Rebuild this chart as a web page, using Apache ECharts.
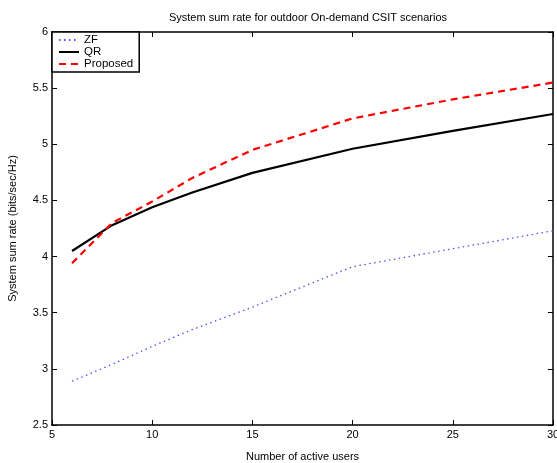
<!DOCTYPE html>
<html>
<head>
<meta charset="utf-8">
<script src="https://cdn.jsdelivr.net/npm/echarts@6/dist/echarts.min.js"></script>
<style>
html,body{margin:0;padding:0;background:#fff;}
#chart{width:557px;height:463px;}
</style>
</head>
<body>
<div id="chart"></div>
<script>
// Number of active users
const users = [6, 8, 10, 12, 15, 20, 25, 30];
// System sum rate (bits/sec/Hz) per scheme
const zfRate = [2.89, 3.04, 3.20, 3.35, 3.55, 3.91, 4.07, 4.23];
const qrRate = [4.05, 4.28, 4.44, 4.57, 4.745, 4.96, 5.12, 5.27];
const proposedRate = [3.94, 4.30, 4.49, 4.70, 4.95, 5.23, 5.40, 5.55];
const seriesNames = ['ZF', 'QR', 'Proposed'];

const font = 'Liberation Sans, Arial, sans-serif';
const pair = (xs, ys) => xs.map((x, i) => [x, ys[i]]);

const chart = echarts.init(document.getElementById('chart'), null, {renderer: 'canvas'});

const tickStyle = {show: true, inside: true, length: 5, lineStyle: {color: '#000', width: 1}};
const axisLine = {show: true, onZero: false, lineStyle: {color: '#000', width: 1.5}};

chart.setOption({
  animation: false,
  backgroundColor: '#fff',
  title: {
    text: 'System sum rate for outdoor On-demand CSIT scenarios',
    left: 303, top: 7, textAlign: 'center',
    textStyle: {fontFamily: font, fontSize: 11, fontWeight: 'normal', color: '#000'}
  },
  legend: {
    data: seriesNames,
    orient: 'vertical',
    left: 52, top: 32,
    padding: [2, 6, 2, 6],
    itemGap: 0,
    itemWidth: 20, itemHeight: 12.5,
    borderColor: '#000', borderWidth: 1.5, borderRadius: 0,
    backgroundColor: '#fff',
    itemStyle: {opacity: 0},
    textStyle: {fontFamily: font, fontSize: 11.5, color: '#000', padding: [0, 0, 0, 0]}
  },
  grid: {left: 52, right: 4, top: 32, bottom: 38, show: false, containLabel: false, outerBoundsMode: 'none'},
  xAxis: [{
    type: 'value', min: 5, max: 30, interval: 5,
    position: 'bottom',
    name: 'Number of active users', nameLocation: 'middle', nameGap: 26,
    nameTextStyle: {fontFamily: font, fontSize: 11, color: '#000'},
    axisLine: axisLine, axisTick: tickStyle,
    axisLabel: {fontFamily: font, fontSize: 11, color: '#000', margin: 4},
    splitLine: {show: false}
  }, {
    type: 'value', min: 5, max: 30, interval: 5,
    position: 'top',
    axisLine: axisLine, axisTick: tickStyle,
    axisLabel: {show: false}, splitLine: {show: false}
  }],
  yAxis: [{
    type: 'value', min: 2.5, max: 6, interval: 0.5,
    position: 'left',
    name: 'System sum rate (bits/sec/Hz)', nameLocation: 'middle', nameGap: 34,
    nameTextStyle: {fontFamily: font, fontSize: 11, color: '#000'},
    axisLine: axisLine, axisTick: tickStyle,
    axisLabel: {fontFamily: font, fontSize: 11, color: '#000', margin: 4},
    splitLine: {show: false}
  }, {
    type: 'value', min: 2.5, max: 6, interval: 0.5,
    position: 'right',
    axisLine: axisLine, axisTick: tickStyle,
    axisLabel: {show: false}, splitLine: {show: false}
  }],
  series: [{
    name: 'ZF', type: 'line', data: pair(users, zfRate),
    symbol: 'none', color: '#5050ff',
    lineStyle: {color: '#5050ff', width: 1.3, type: [1.5, 3.5]}
  }, {
    name: 'QR', type: 'line', data: pair(users, qrRate),
    symbol: 'none', color: '#000',
    lineStyle: {color: '#000', width: 2.2, type: 'solid'}
  }, {
    name: 'Proposed', type: 'line', data: pair(users, proposedRate),
    symbol: 'none', color: '#ff0000',
    lineStyle: {color: '#ff0000', width: 2.2, type: [7, 5]}
  }]
});
</script>
</body>
</html>
